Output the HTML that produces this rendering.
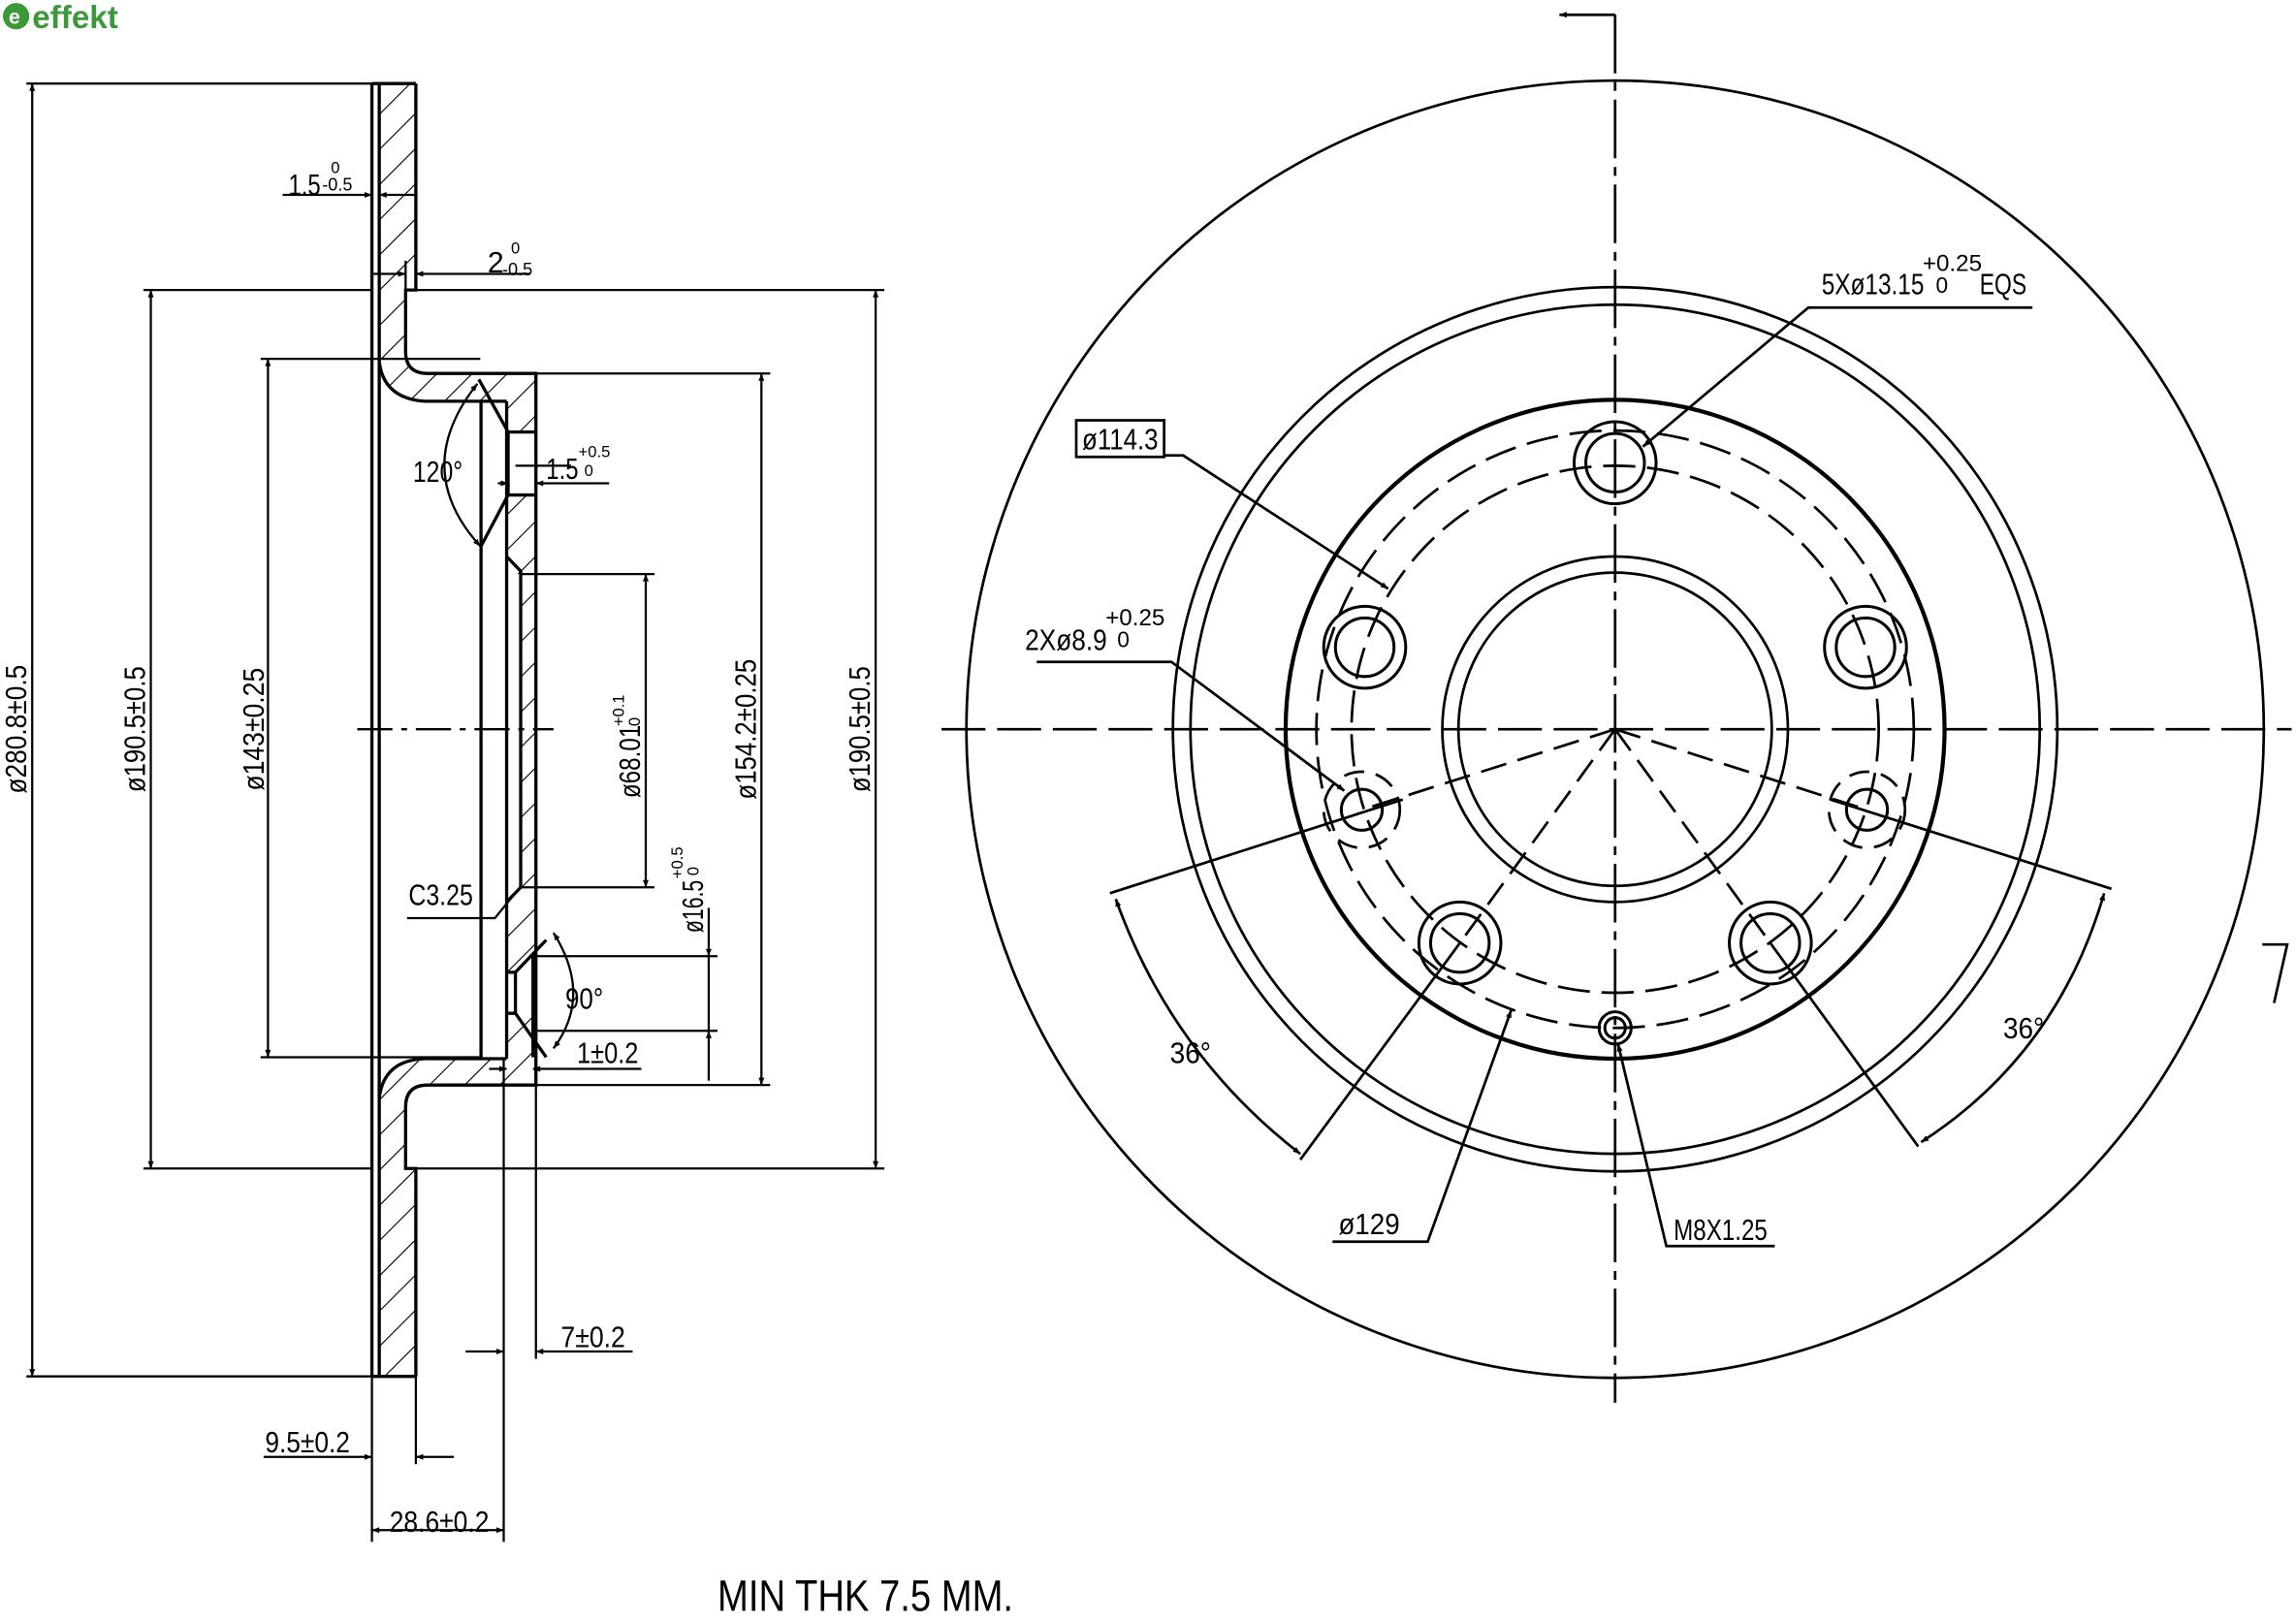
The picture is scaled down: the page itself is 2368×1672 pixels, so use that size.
<!DOCTYPE html>
<html><head><meta charset="utf-8"><style>
html,body{margin:0;padding:0;background:#fff;}
svg{display:block;}
text{font-family:"Liberation Sans",sans-serif;fill:#000;}
</style></head><body>
<svg width="2368" height="1672" viewBox="0 0 1568 1107" xmlns="http://www.w3.org/2000/svg">
<defs>
<pattern id="h" patternUnits="userSpaceOnUse" width="17" height="17" patternTransform="rotate(45)">
<line x1="0" y1="0" x2="0" y2="17" stroke="#000" stroke-width="1.5"/>
</pattern>
<marker id="a" viewBox="0 0 10 10" refX="10" refY="5" markerWidth="10" markerHeight="5" orient="auto-start-reverse" markerUnits="userSpaceOnUse"><path d="M0,1 L10,5 L0,9 z" fill="#000"/></marker>
</defs>
<rect width="1568" height="1107" fill="#fff"/>

<circle cx="11" cy="11" r="9" fill="#3a9a3a"/>
<text x="6" y="16" font-size="14" font-weight="bold" style="fill:#fff">e</text>
<text x="22" y="19" font-size="22" font-weight="bold" style="fill:#3a9a3a">effekt</text>

<g fill="url(#h)" stroke="none">
<path d="M259,57 H284 V198 H277 V240 Q277,255 292,255 H366 V741 H292 Q277,741 277,756 V798 H284 V940 H259 V750 Q262,724 290,723 H328 V274 H290 Q262,272 259,247 Z"/>
</g>
<rect x="347" y="295" width="19" height="43" fill="#fff"/>
<rect x="347" y="392" width="8" height="212" fill="#fff"/>
<rect x="347" y="664" width="16" height="28" fill="#fff"/>
<rect x="329" y="275" width="17" height="447" fill="#fff"/>

<g stroke="#000" stroke-width="2.2" fill="none">
<line x1="254" y1="57" x2="254" y2="940"/>
<line x1="259" y1="57" x2="259" y2="940"/>
<line x1="254" y1="57" x2="284" y2="57"/>
<line x1="254" y1="940" x2="284" y2="940"/>
<path d="M284,57 V198 H277 V240 Q277,255 292,255 H366 V741 H292 Q277,741 277,756 V798 H284 V940"/>
<path d="M259,247 Q262,272 290,274 H346"/>
<path d="M259,750 Q262,724 290,723 H346"/>
<line x1="328.5" y1="274" x2="328.5" y2="723"/>
<line x1="346" y1="274" x2="346" y2="723"/>
<path d="M327,259 L347,295 H366 M347,338 H366 M347,295 V338 M347,338 L328.5,373"/>
<path d="M346,380 L355.6,390 V606 L346,616"/>
<path d="M346,664 H352 V692 H346 M352,664 L373,642 M352,692 L373,722"/>
<line x1="364" y1="653" x2="364" y2="722"/>
</g>

<g stroke="#000" stroke-width="1.5" fill="none">
<line x1="18" y1="57" x2="254" y2="57"/>
<line x1="18" y1="940" x2="254" y2="940"/>
<line x1="22" y1="57" x2="22" y2="940" marker-start="url(#a)" marker-end="url(#a)"/>
<line x1="98" y1="198" x2="254" y2="198"/>
<line x1="98" y1="798" x2="254" y2="798"/>
<line x1="284" y1="198" x2="604" y2="198"/>
<line x1="284" y1="798" x2="604" y2="798"/>
<line x1="103" y1="198" x2="103" y2="798" marker-start="url(#a)" marker-end="url(#a)"/>
<line x1="598" y1="198" x2="598" y2="798" marker-start="url(#a)" marker-end="url(#a)"/>
<line x1="178" y1="245" x2="328" y2="245"/>
<line x1="178" y1="722" x2="328" y2="722"/>
<line x1="183" y1="245" x2="183" y2="722" marker-start="url(#a)" marker-end="url(#a)"/>
<line x1="366" y1="255" x2="526" y2="255"/>
<line x1="366" y1="741" x2="526" y2="741"/>
<line x1="520" y1="255" x2="520" y2="741" marker-start="url(#a)" marker-end="url(#a)"/>
<line x1="355" y1="392" x2="447" y2="392"/>
<line x1="355" y1="606" x2="447" y2="606"/>
<line x1="441" y1="392" x2="441" y2="606" marker-start="url(#a)" marker-end="url(#a)"/>
<line x1="364" y1="653" x2="490" y2="653"/>
<line x1="364" y1="704" x2="490" y2="704"/>
<line x1="484" y1="620" x2="484" y2="653" marker-end="url(#a)"/>
<line x1="484" y1="738" x2="484" y2="704" marker-end="url(#a)"/>
<line x1="484" y1="653" x2="484" y2="704"/>
<line x1="244" y1="498" x2="378" y2="498" stroke-dasharray="24,6,4,6"/>
<line x1="193" y1="133" x2="254" y2="133" marker-end="url(#a)"/>
<line x1="259" y1="133" x2="284" y2="133" marker-start="url(#a)"/>
<line x1="255" y1="187" x2="277" y2="187" marker-end="url(#a)"/>
<line x1="284" y1="187" x2="362" y2="187" marker-start="url(#a)"/>
<line x1="277" y1="178" x2="277" y2="198"/>
<line x1="340" y1="330" x2="347" y2="330" marker-end="url(#a)"/>
<line x1="366" y1="330" x2="416" y2="330" marker-start="url(#a)"/>
<line x1="352" y1="318" x2="390" y2="318"/>
<path d="M326,262 Q280,320 328,373" marker-start="url(#a)" marker-end="url(#a)"/>
<path d="M378,637 Q405,680 378,716" marker-start="url(#a)" marker-end="url(#a)"/>
<path d="M278,627 H338 L351,611"/>
<line x1="334" y1="730" x2="346" y2="730" marker-end="url(#a)"/>
<line x1="364" y1="730" x2="438" y2="730" marker-start="url(#a)"/>
<line x1="344" y1="723" x2="344" y2="1053"/>
<line x1="366" y1="741" x2="366" y2="928"/>
<line x1="284" y1="940" x2="284" y2="1000"/>
<line x1="254" y1="940" x2="254" y2="1053"/>
<line x1="318" y1="923" x2="344" y2="923" marker-end="url(#a)"/>
<line x1="366" y1="923" x2="432" y2="923" marker-start="url(#a)"/>
<line x1="180" y1="995" x2="254" y2="995" marker-end="url(#a)"/>
<line x1="284" y1="995" x2="310" y2="995" marker-start="url(#a)"/>
<line x1="254" y1="1045" x2="344" y2="1045" marker-start="url(#a)" marker-end="url(#a)"/>
</g>

<g font-size="20">
<text transform="translate(18,498) rotate(-90)" text-anchor="middle" textLength="88" lengthAdjust="spacingAndGlyphs">ø280.8±0.5</text>
<text transform="translate(99,498) rotate(-90)" text-anchor="middle" textLength="86" lengthAdjust="spacingAndGlyphs">ø190.5±0.5</text>
<text transform="translate(180,498) rotate(-90)" text-anchor="middle" textLength="84" lengthAdjust="spacingAndGlyphs">ø143±0.25</text>
<text transform="translate(516,498) rotate(-90)" text-anchor="middle" textLength="96" lengthAdjust="spacingAndGlyphs">ø154.2±0.25</text>
<text transform="translate(594,498) rotate(-90)" text-anchor="middle" textLength="86" lengthAdjust="spacingAndGlyphs">ø190.5±0.5</text>
<text transform="translate(437,545) rotate(-90)" textLength="50" lengthAdjust="spacingAndGlyphs">ø68.01</text>
<text transform="translate(426,496) rotate(-90)" font-size="11">+0.1</text>
<text transform="translate(437,496) rotate(-90)" font-size="11">0</text>
<text transform="translate(480,637) rotate(-90)" textLength="36" lengthAdjust="spacingAndGlyphs">ø16.5</text>
<text transform="translate(466,600) rotate(-90)" font-size="11">+0.5</text>
<text transform="translate(477,598) rotate(-90)" font-size="11">0</text>
<text x="197" y="133" textLength="22" lengthAdjust="spacingAndGlyphs">1.5</text>
<text x="220" y="130" font-size="12">-0.5</text><text x="226" y="118" font-size="11">0</text>
<text x="333" y="186">2</text>
<text x="343" y="188" font-size="12">-0.5</text><text x="349" y="173" font-size="11">0</text>
<text x="373" y="327" textLength="22" lengthAdjust="spacingAndGlyphs">1.5</text>
<text x="395" y="312" font-size="11">+0.5</text><text x="399" y="325" font-size="11">0</text>
<text x="282" y="329" textLength="34" lengthAdjust="spacingAndGlyphs">120°</text>
<text x="386" y="689" textLength="26" lengthAdjust="spacingAndGlyphs">90°</text>
<text x="279" y="618" textLength="44" lengthAdjust="spacingAndGlyphs">C3.25</text>
<text x="394" y="726" textLength="42" lengthAdjust="spacingAndGlyphs">1±0.2</text>
<text x="383" y="920" textLength="44" lengthAdjust="spacingAndGlyphs">7±0.2</text>
<text x="181" y="992" textLength="58" lengthAdjust="spacingAndGlyphs">9.5±0.2</text>
<text x="266" y="1046" textLength="68" lengthAdjust="spacingAndGlyphs">28.6±0.2</text>
<text x="490" y="1100" font-size="30" textLength="202" lengthAdjust="spacingAndGlyphs">MIN THK 7.5 MM.</text>
</g>

<g stroke="#000" fill="none" stroke-width="1.8">
<circle cx="1103" cy="498" r="443"/>
<circle cx="1103" cy="498" r="302"/>
<circle cx="1103" cy="498" r="290"/>
<circle cx="1103" cy="498" r="225" stroke-width="2.8"/>
<circle cx="1103" cy="498" r="118"/>
<circle cx="1103" cy="498" r="107"/>
<circle cx="1103" cy="498" r="204" stroke-dasharray="22,8"/>
<circle cx="1103" cy="498" r="180" stroke-dasharray="22,8"/>
<line x1="643" y1="498" x2="1565" y2="498" stroke-dasharray="30,8"/>
<line x1="1103" y1="10" x2="1103" y2="958" stroke-dasharray="40,6,6,6"/>
<line x1="1065" y1="10" x2="1103" y2="10" marker-start="url(#a)"/>
<path d="M1545,645 L1562,645 L1553,685"/>
<g stroke-width="2">
<circle cx="1103" cy="316" r="28"/><circle cx="1103" cy="316" r="20"/>
<circle cx="1274" cy="442" r="28"/><circle cx="1274" cy="442" r="20"/>
<circle cx="1209" cy="644" r="28"/><circle cx="1209" cy="644" r="20"/>
<circle cx="997" cy="644" r="28"/><circle cx="997" cy="644" r="20"/>
<circle cx="932" cy="442" r="28"/><circle cx="932" cy="442" r="20"/>
<circle cx="930" cy="553" r="14"/><circle cx="1275" cy="553" r="14"/>
<circle cx="1103" cy="702" r="11"/><circle cx="1103" cy="702" r="7"/>
</g>
<circle cx="930" cy="553" r="26" stroke-dasharray="14,8"/>
<circle cx="1275" cy="553" r="26" stroke-dasharray="14,8"/>
<line x1="1103" y1="498" x2="930" y2="553" stroke-dasharray="18,8"/>
<line x1="1103" y1="498" x2="1275" y2="553" stroke-dasharray="18,8"/>
<line x1="1103" y1="498" x2="997" y2="644" stroke-dasharray="18,8"/>
<line x1="1103" y1="498" x2="1209" y2="644" stroke-dasharray="18,8"/>
<line x1="958" y1="546" x2="758" y2="610"/>
<line x1="1250" y1="546" x2="1442" y2="607"/>
<line x1="997" y1="644" x2="888" y2="792"/>
<line x1="1209" y1="644" x2="1310" y2="783"/>
<path d="M762,614 Q800,720 888,788" marker-start="url(#a)" marker-end="url(#a)"/>
<path d="M1437,610 Q1405,720 1312,780" marker-start="url(#a)" marker-end="url(#a)"/>
<path d="M1388,210 H1235 L1122,305" marker-end="url(#a)"/>
<rect x="735" y="287" width="60" height="25"/>
<path d="M795,311 H808 L948,402" marker-end="url(#a)"/>
<path d="M708,452 H800 L918,540" marker-end="url(#a)"/>
<path d="M910,848 H975 L1032,690" marker-end="url(#a)"/>
<path d="M1212,851 H1138 L1105,713" marker-end="url(#a)"/>
</g>
<g font-size="20">
<text x="1244" y="201" textLength="70" lengthAdjust="spacingAndGlyphs">5Xø13.15</text>
<text x="1313" y="185" font-size="16">+0.25</text><text x="1322" y="200" font-size="15">0</text>
<text x="1352" y="201" textLength="32" lengthAdjust="spacingAndGlyphs">EQS</text>
<text x="739" y="307" textLength="52" lengthAdjust="spacingAndGlyphs">ø114.3</text>
<text x="700" y="444" textLength="56" lengthAdjust="spacingAndGlyphs">2Xø8.9</text>
<text x="755" y="427" font-size="16">+0.25</text><text x="763" y="442" font-size="15">0</text>
<text x="799" y="726" textLength="28" lengthAdjust="spacingAndGlyphs">36°</text>
<text x="1368" y="709" textLength="28" lengthAdjust="spacingAndGlyphs">36°</text>
<text x="914" y="843" textLength="42" lengthAdjust="spacingAndGlyphs">ø129</text>
<text x="1143" y="847" textLength="64" lengthAdjust="spacingAndGlyphs">M8X1.25</text>
</g>
</svg>
</body></html>
